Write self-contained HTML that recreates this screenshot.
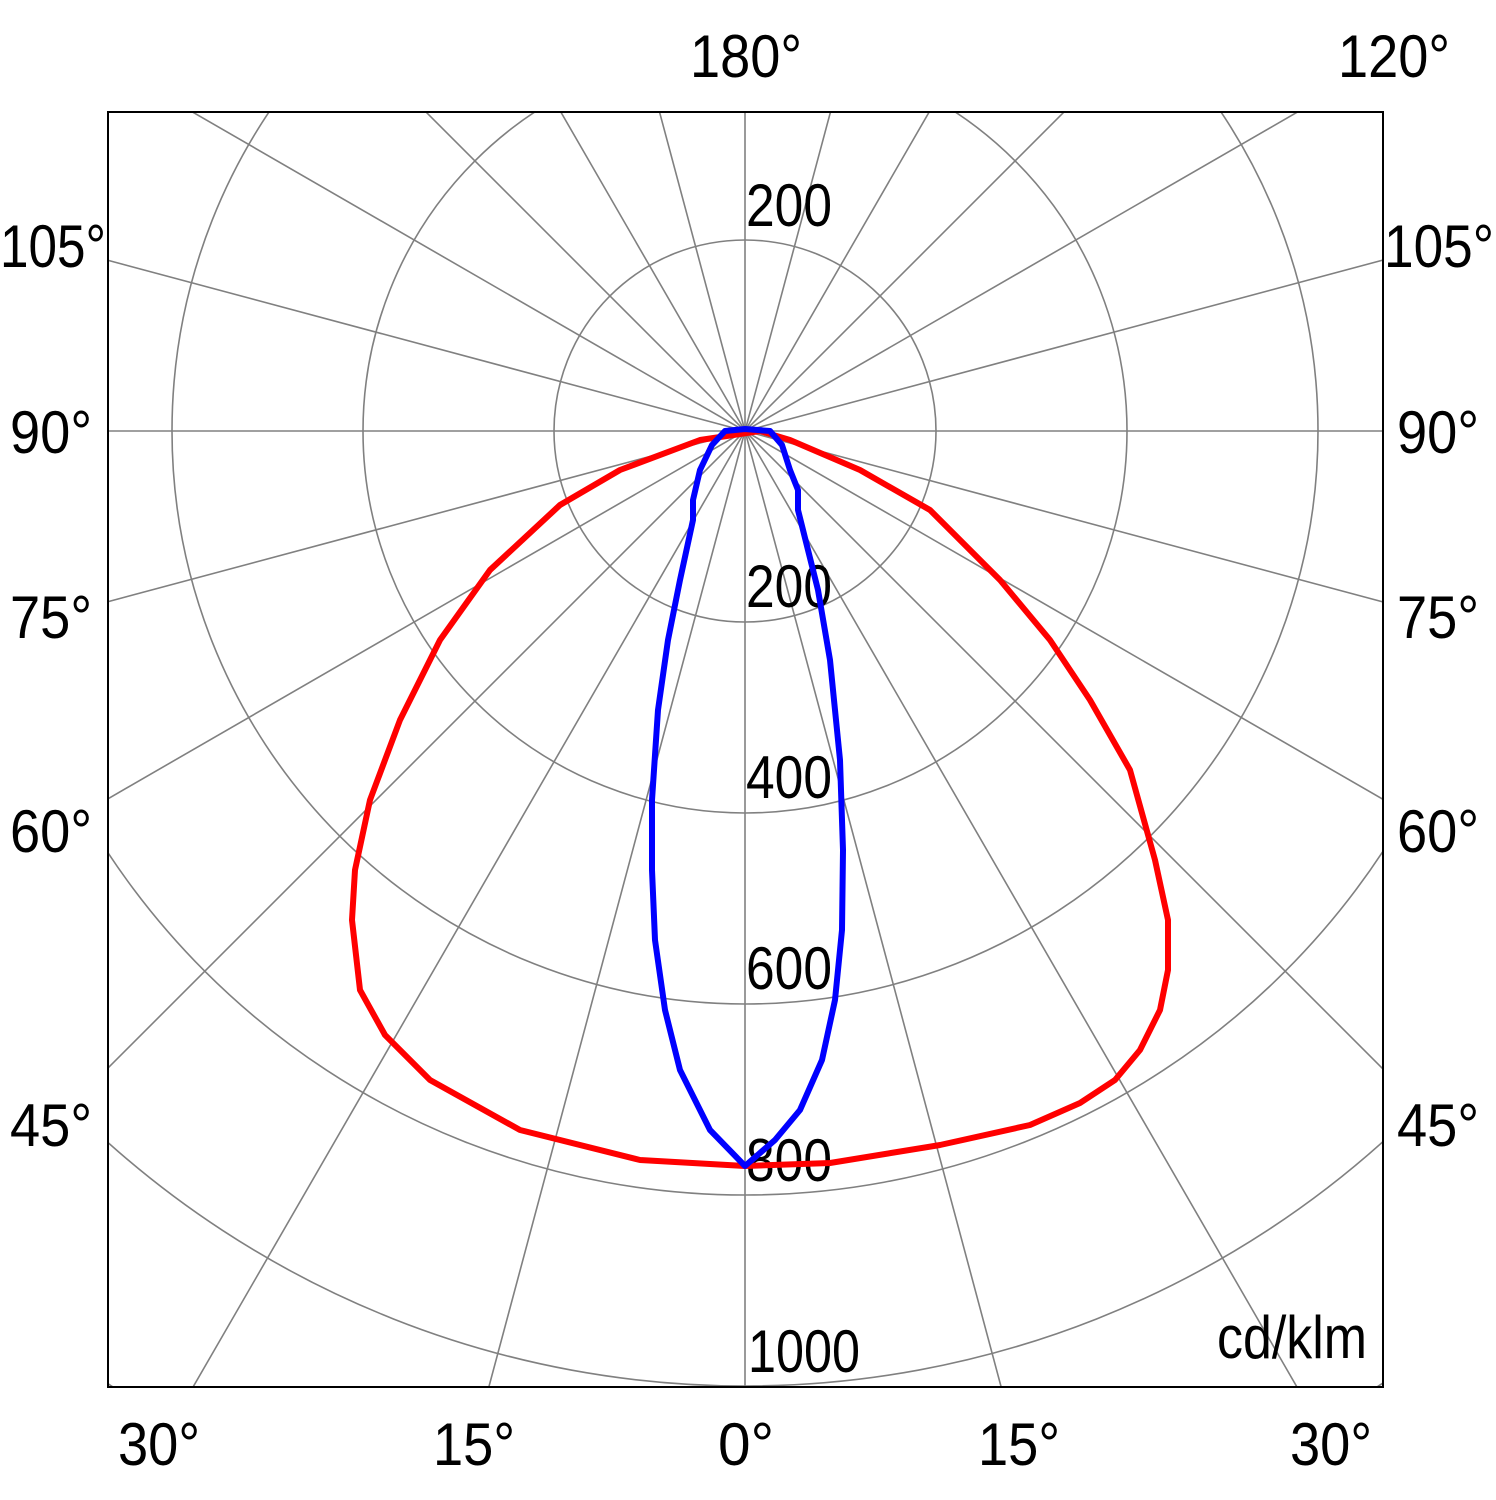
<!DOCTYPE html>
<html><head><style>html,body{margin:0;background:#fff;overflow:hidden;width:1496px;height:1500px}svg{display:block}</style></head><body>
<svg width="1496" height="1500" xmlns="http://www.w3.org/2000/svg" style="overflow:hidden">
<defs><clipPath id="c"><rect x="108" y="112" width="1275" height="1275"/></clipPath></defs>
<g clip-path="url(#c)" stroke="#808080" stroke-width="1.6" fill="none">
<circle cx="745" cy="431" r="191"/><circle cx="745" cy="431" r="382"/><circle cx="745" cy="431" r="573"/>
<circle cx="745" cy="431" r="764"/><circle cx="745" cy="431" r="955"/><circle cx="745" cy="431" r="1146"/>
<g id="rays">
<line x1="-500" y1="431" x2="2000" y2="431"/>
<line x1="745" y1="-900" x2="745" y2="1800"/>
</g>
<g transform="rotate(15 745 431)"><use href="#rays"/></g>
<g transform="rotate(30 745 431)"><use href="#rays"/></g>
<g transform="rotate(45 745 431)"><use href="#rays"/></g>
<g transform="rotate(60 745 431)"><use href="#rays"/></g>
<g transform="rotate(75 745 431)"><use href="#rays"/></g>
</g>
<rect x="108" y="112" width="1275" height="1275" fill="none" stroke="#000" stroke-width="2"/>
<g font-family="'Liberation Sans',sans-serif" font-size="60" fill="#000">
<text x="746" y="226" textLength="86" lengthAdjust="spacingAndGlyphs">200</text>
<text x="746" y="607" textLength="86" lengthAdjust="spacingAndGlyphs">200</text>
<text x="746" y="798" textLength="86" lengthAdjust="spacingAndGlyphs">400</text>
<text x="746" y="989" textLength="86" lengthAdjust="spacingAndGlyphs">600</text>
<text x="746" y="1181" textLength="86" lengthAdjust="spacingAndGlyphs">800</text>
<text x="748" y="1372" textLength="112" lengthAdjust="spacingAndGlyphs">1000</text>
<text x="1217" y="1358" textLength="150" lengthAdjust="spacingAndGlyphs">cd/klm</text>
<text x="690" y="77" textLength="112" lengthAdjust="spacingAndGlyphs">180°</text>
<text x="1338" y="77" textLength="112" lengthAdjust="spacingAndGlyphs">120°</text>
<text x="0" y="267" textLength="106" lengthAdjust="spacingAndGlyphs">105°</text>
<text x="1384" y="267" textLength="110" lengthAdjust="spacingAndGlyphs">105°</text>
<text x="10" y="453" textLength="82" lengthAdjust="spacingAndGlyphs">90°</text>
<text x="1397" y="453" textLength="82" lengthAdjust="spacingAndGlyphs">90°</text>
<text x="10" y="638" textLength="82" lengthAdjust="spacingAndGlyphs">75°</text>
<text x="1397" y="638" textLength="82" lengthAdjust="spacingAndGlyphs">75°</text>
<text x="10" y="852" textLength="82" lengthAdjust="spacingAndGlyphs">60°</text>
<text x="1397" y="852" textLength="82" lengthAdjust="spacingAndGlyphs">60°</text>
<text x="10" y="1146" textLength="82" lengthAdjust="spacingAndGlyphs">45°</text>
<text x="1397" y="1146" textLength="82" lengthAdjust="spacingAndGlyphs">45°</text>
<text x="118" y="1465" textLength="82" lengthAdjust="spacingAndGlyphs">30°</text>
<text x="433" y="1465" textLength="82" lengthAdjust="spacingAndGlyphs">15°</text>
<text x="718" y="1465" textLength="56" lengthAdjust="spacingAndGlyphs">0°</text>
<text x="978" y="1465" textLength="82" lengthAdjust="spacingAndGlyphs">15°</text>
<text x="1290" y="1465" textLength="82" lengthAdjust="spacingAndGlyphs">30°</text>
</g>
<path fill="none" stroke="#f00" stroke-width="6" stroke-linejoin="round" d="M760,431 L700,440 L620,470 L560,505 L490,570 L440,640 L400,720 L370,800 L355,870 L352,920 L360,990 L385,1035 L430,1080 L520,1130 L640,1160 L745,1166 L830,1163 L940,1145 L1030,1125 L1080,1103 L1115,1080 L1140,1050 L1160,1010 L1168,970 L1168,920 L1155,860 L1130,770 L1090,700 L1050,640 L1000,580 L930,510 L860,470 L790,440 L760,431"/>
<path fill="none" stroke="#00f" stroke-width="6" stroke-linejoin="round" d="M745,429 L725,431 L712,445 L700,470 L693,500 L693,520 L680,580 L668,640 L658,710 L652,800 L652,870 L655,940 L665,1010 L680,1070 L710,1130 L745,1166 L775,1140 L800,1110 L822,1060 L835,1000 L842,930 L843,850 L840,760 L830,660 L818,590 L808,550 L798,510 L798,490 L790,470 L782,445 L770,431 Z"/>
</svg>
</body></html>
